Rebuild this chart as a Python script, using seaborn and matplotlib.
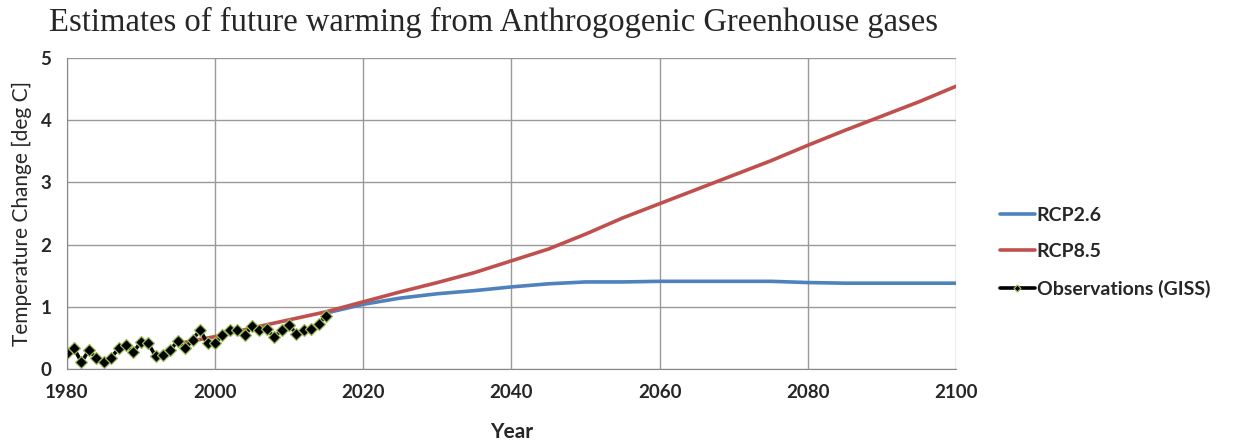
import matplotlib
matplotlib.use("Agg")
import matplotlib.pyplot as plt
import numpy as np
import pandas as pd
import seaborn as sns

# observations (GISS), yearly
obs_years = list(range(1980, 2016))
obs_vals = [0.26, 0.33, 0.11, 0.30, 0.17, 0.11, 0.18, 0.33, 0.39, 0.27,
            0.43, 0.41, 0.21, 0.22, 0.31, 0.45, 0.33, 0.47, 0.63, 0.41,
            0.41, 0.54, 0.63, 0.62, 0.54, 0.69, 0.63, 0.64, 0.51, 0.63,
            0.70, 0.57, 0.63, 0.64, 0.73, 0.86]

# RCP8.5
rcp85_years = [1996, 2000, 2005, 2010, 2015, 2020, 2025, 2030, 2035, 2040, 2045,
               2050, 2055, 2060, 2065, 2070, 2075, 2080, 2085, 2090, 2095, 2100]
rcp85_vals = [0.43, 0.52, 0.66, 0.79, 0.92, 1.08, 1.24, 1.39, 1.55, 1.74, 1.93,
              2.17, 2.43, 2.66, 2.89, 3.12, 3.35, 3.60, 3.84, 4.07, 4.30, 4.55]

# RCP2.6
rcp26_years = [2015, 2020, 2025, 2030, 2035, 2040, 2045, 2050, 2055, 2060,
               2065, 2070, 2075, 2080, 2085, 2090, 2095, 2100]
rcp26_vals = [0.90, 1.04, 1.14, 1.21, 1.26, 1.32, 1.37, 1.40, 1.40, 1.41,
              1.41, 1.41, 1.41, 1.39, 1.38, 1.38, 1.38, 1.38]

sns.set_style("white")
plt.rcParams['font.family'] = ['Lato', 'DejaVu Sans']

fig = plt.figure(figsize=(12.34, 4.44), dpi=100)
ax = fig.add_axes([0.054, 0.169, 0.721, 0.70])

sns.lineplot(x=rcp26_years, y=rcp26_vals, ax=ax, color="#4F81BD", lw=2.6, label="RCP2.6")
sns.lineplot(x=rcp85_years, y=rcp85_vals, ax=ax, color="#C0504D", lw=2.6, label="RCP8.5")
sns.lineplot(x=obs_years, y=obs_vals, ax=ax, color="black", lw=2.6, marker="D",
             markersize=6.5, markerfacecolor="black", markeredgecolor="#9BBB59",
             markeredgewidth=0.9, label="Observations (GISS)")

ax.set_xlim(1980, 2100)
ax.set_ylim(0, 5)
ax.set_xticks(range(1980, 2101, 20))
ax.set_yticks(range(0, 6))
ax.grid(True, color="#999999", lw=1)
for s in ["top", "right"]:
    ax.spines[s].set_visible(False)
for s in ["left", "bottom"]:
    ax.spines[s].set_color("#888888")
ax.tick_params(axis="both", which="both", direction="out", length=5, color="#888888",
               labelsize=13.5, pad=6)
for lab in ax.get_xticklabels() + ax.get_yticklabels():
    lab.set_fontweight("bold")

ax.set_xlabel("Year", fontsize=15, fontweight="bold", labelpad=15)
ax.set_ylabel("Temperature Change [deg C]", fontsize=15, labelpad=6)

fig.text(0.40, 0.95, "Estimates of future warming from Anthrogogenic Greenhouse gases",
         family="Liberation Serif", fontsize=23.5, ha="center", va="center")

leg = ax.legend(loc="center left", bbox_to_anchor=(1.029, 0.376), frameon=False,
                handlelength=1.8, handletextpad=0.1, labelspacing=1.0,
                prop={"weight": "bold", "size": 14})
# small marker in the legend, like the original
leg.legend_handles[2].set_markersize(3.5)

fig.savefig("out.png", dpi=100)
